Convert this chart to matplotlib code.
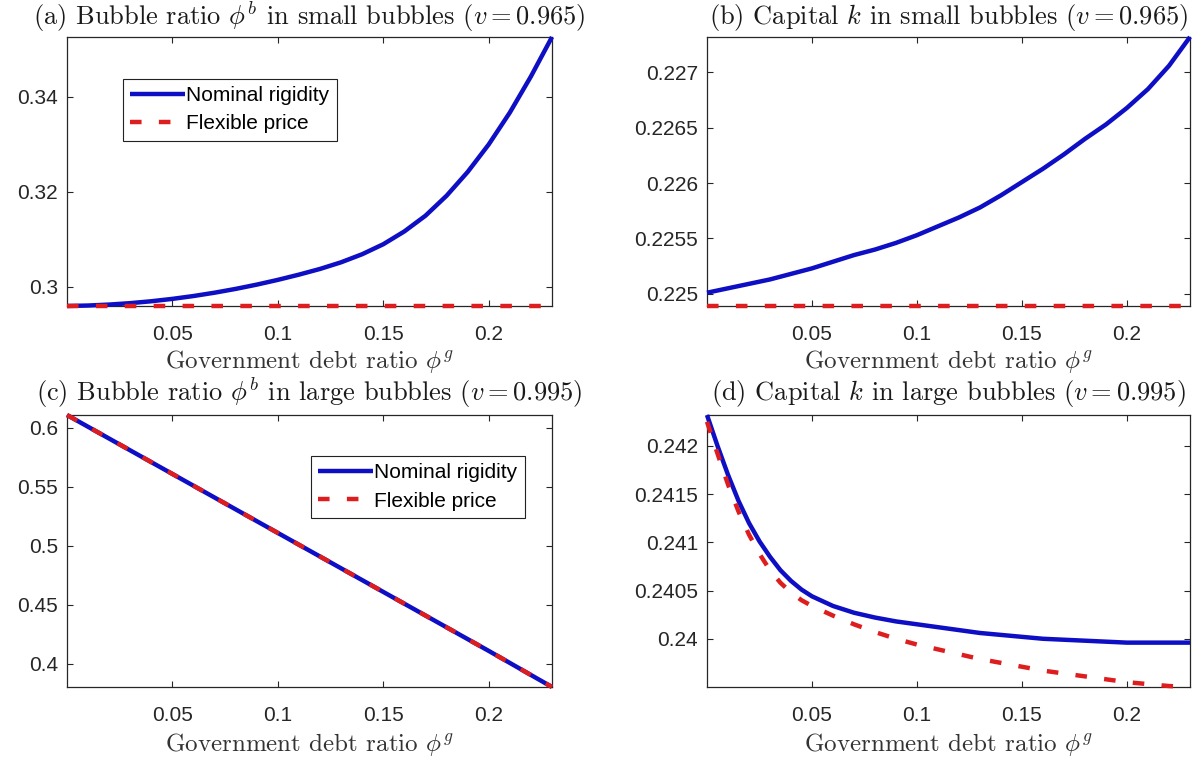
import matplotlib
matplotlib.use("Agg")
import matplotlib.pyplot as plt

plt.rcParams['mathtext.fontset'] = 'cm'
plt.rcParams['font.family'] = ['Liberation Sans', 'DejaVu Sans']

# ---------------- data ----------------
# (a) bubble ratio, small bubbles
xa = [0.0, 0.01, 0.02, 0.03, 0.04, 0.05, 0.06, 0.07, 0.08, 0.09, 0.10, 0.11, 0.12,
      0.13, 0.14, 0.15, 0.16, 0.17, 0.18, 0.19, 0.20, 0.21, 0.22, 0.23]
a_nominal = [0.2960, 0.2961, 0.2963, 0.2966, 0.2970, 0.2975, 0.2981, 0.2988, 0.2996,
             0.3005, 0.3015, 0.3026, 0.3038, 0.3052, 0.3069, 0.3090, 0.3117, 0.3150,
             0.3192, 0.3242, 0.3300, 0.3367, 0.3443, 0.3526]
a_flex = [0.2960] * len(xa)

# (b) capital, small bubbles
xb = xa
b_nominal = [0.22501, 0.22505, 0.22509, 0.22513, 0.22518, 0.22523, 0.22529, 0.22535,
             0.22540, 0.22546, 0.22553, 0.22561, 0.22569, 0.22578, 0.22589, 0.22601,
             0.22613, 0.22626, 0.22640, 0.22653, 0.22668, 0.22685, 0.22706, 0.22732]
b_flex = [0.22489] * len(xb)

# (c) bubble ratio, large bubbles
xc = [0.0, 0.05, 0.10, 0.15, 0.20, 0.23]
c_nominal = [0.611, 0.561, 0.511, 0.461, 0.411, 0.3804]
c_flex = [0.611, 0.561, 0.511, 0.461, 0.411, 0.3804]

# (d) capital, large bubbles
xd = [0.0, 0.005, 0.01, 0.015, 0.02, 0.025, 0.03, 0.035, 0.04, 0.045, 0.05, 0.06,
      0.07, 0.08, 0.09, 0.10, 0.11, 0.12, 0.13, 0.14, 0.15, 0.16, 0.17, 0.18, 0.19,
      0.20, 0.21, 0.22, 0.23]
d_nominal = [0.24232, 0.24200, 0.24170, 0.24143, 0.24120, 0.24101, 0.24085, 0.24071,
             0.24060, 0.24051, 0.24044, 0.24034, 0.24027, 0.24022, 0.24018, 0.24015,
             0.24012, 0.24009, 0.24006, 0.24004, 0.24002, 0.24000, 0.23999, 0.23998,
             0.23997, 0.23996, 0.23996, 0.23996, 0.23996]
d_flex = [0.24225, 0.24192, 0.24160, 0.24132, 0.24108, 0.24088, 0.24071, 0.24058,
          0.24048, 0.24040, 0.24034, 0.24024, 0.24015, 0.24007, 0.24000, 0.23994,
          0.23989, 0.23984, 0.23979, 0.23975, 0.23971, 0.23967, 0.23964, 0.23961,
          0.23958, 0.23955, 0.23953, 0.23951, 0.23950]

xticks = [0.05, 0.10, 0.15, 0.20]
xticklabels = ['0.05', '0.1', '0.15', '0.2']
a_yticks, a_yticklabels = [0.30, 0.32, 0.34], ['0.3', '0.32', '0.34']
b_yticks = [0.225, 0.2255, 0.226, 0.2265, 0.227]
b_yticklabels = ['0.225', '0.2255', '0.226', '0.2265', '0.227']
c_yticks = [0.40, 0.45, 0.50, 0.55, 0.60]
c_yticklabels = ['0.4', '0.45', '0.5', '0.55', '0.6']
d_yticks = [0.240, 0.2405, 0.241, 0.2415, 0.242]
d_yticklabels = ['0.24', '0.2405', '0.241', '0.2415', '0.242']

titles = [r'(a) Bubble ratio $\phi^b$ in small bubbles $(v = 0.965)$',
          r'(b) Capital $k$ in small bubbles $(v = 0.965)$',
          r'(c) Bubble ratio $\phi^b$ in large bubbles $(v = 0.995)$',
          r'(d) Capital $k$ in large bubbles $(v = 0.995)$']
xlabel = r'Government debt ratio $\phi^g$'
series_names = ['Nominal rigidity', 'Flexible price']

# ---------------- style ----------------
BLUE = '#0e0ec4'
RED = '#de1e1e'
LW = 3.2
DASH = (0, (2.6, 3.9))
AXC = '#262626'

W, H = 1198, 763
fig = plt.figure(figsize=(W / 100, H / 100), dpi=100)

def rect(l, r, t, b):
    return [l / W, 1 - b / H, (r - l) / W, (b - t) / H]

ax_a = fig.add_axes(rect(67, 552, 37, 306))
ax_b = fig.add_axes(rect(707, 1190, 37, 306))
ax_c = fig.add_axes(rect(67, 552, 415, 687))
ax_d = fig.add_axes(rect(707, 1190, 415, 687))

panels = [
    (ax_a, xa, a_nominal, a_flex, a_yticks, a_yticklabels, 1.074, -0.208),
    (ax_b, xb, b_nominal, b_flex, b_yticks, b_yticklabels, 1.074, -0.208),
    (ax_c, xc, c_nominal, c_flex, c_yticks, c_yticklabels, 1.080, -0.213),
    (ax_d, xd, d_nominal, d_flex, d_yticks, d_yticklabels, 1.080, -0.213),
]

for i, (ax, x, yn, yf, yt, ytl, ty, ly) in enumerate(panels):
    ax.plot(x, yn, color=BLUE, lw=LW, solid_capstyle='butt', label=series_names[0],
            clip_on=False, zorder=3)
    ax.plot(x, yf, color=RED, lw=LW, linestyle=DASH, label=series_names[1],
            clip_on=False, zorder=4)
    ax.set_xlim(0.0, 0.23)
    lo = min(min(yn), min(yf))
    hi = max(max(yn), max(yf))
    ax.set_ylim(lo, hi)
    ax.set_xticks(xticks)
    ax.set_xticklabels(xticklabels)
    ax.set_yticks(yt)
    ax.set_yticklabels(ytl)
    ax.tick_params(direction='in', top=True, right=True, length=4.5, width=0.8,
                   labelsize=15, colors=AXC, pad=6.5)
    ax.tick_params(axis='x', pad=14)
    for sp in ax.spines.values():
        sp.set_color(AXC)
        sp.set_linewidth(0.9)
    ax.text(0.5, ty, titles[i], transform=ax.transAxes, ha='center', va='center',
            fontsize=19, family='cmr10', color='#1a1a1a')
    ax.set_xlabel(xlabel, fontsize=18, family='cmr10', color='#333333')
    ax.xaxis.set_label_coords(0.5, ly)
    ax.xaxis.label.set_va('center')

leg_kw = dict(borderaxespad=0, fontsize=15, frameon=True, fancybox=False, framealpha=1,
              edgecolor='#222222', handlelength=2.65, handletextpad=0.05,
              borderpad=0.35, labelspacing=0.45)
leg_a = ax_a.legend(loc='upper left', bbox_to_anchor=(0.115, 0.845), **leg_kw)
leg_a.get_frame().set_linewidth(0.8)
leg_c = ax_c.legend(loc='upper right', bbox_to_anchor=(0.944, 0.849), **leg_kw)
leg_c.get_frame().set_linewidth(0.8)

fig.savefig('out.png', dpi=100)
